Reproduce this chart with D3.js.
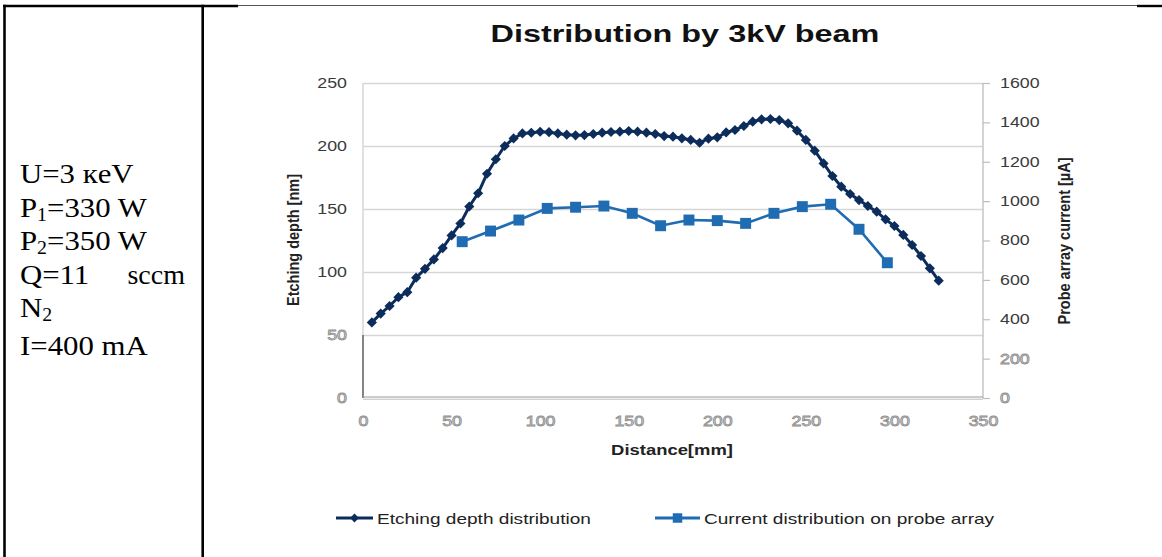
<!DOCTYPE html>
<meta charset="utf-8">
<html lang="en">
<head>
<title>Distribution by 3kV beam</title>
<script src="https://d3js.org/d3.v7.min.js"></script>
<style>
    body { margin: 0; background: #fff; }
    text { font-family: "Liberation Sans", Arial, sans-serif; }
    .params text { font-family: "Liberation Serif", "Times New Roman", serif; font-size: 28px; fill: #000; }
    .grid line { stroke: #d6d6d6; stroke-width: 1.5px; }
    .grid path { display: none; }
    .axis path { display: none; }
    .axis line { stroke: #bdbdbd; stroke-width: 1.2px; }
    .axis text { font-size: 14px; fill: #3a3a3a; }
    .axis text.ghost { fill: #f2f2f2; stroke: #8e8e8e; stroke-width: 0.8px; }
    .title { font-size: 24px; font-weight: bold; fill: #111; }
    .atitle { font-size: 14.5px; font-weight: bold; fill: #222; }
    .legend text { font-size: 15px; fill: #222; }
</style>
</head>
<body>
<script>
    // etching depth, every 5 mm
    var distance = [5, 10, 15, 20, 25, 30, 35, 40, 45, 50, 55, 60, 65, 70, 75, 80, 85, 90, 95, 100,
        105, 110, 115, 120, 125, 130, 135, 140, 145, 150, 155, 160, 165, 170, 175, 180, 185, 190, 195, 200,
        205, 210, 215, 220, 225, 230, 235, 240, 245, 250, 255, 260, 265, 270, 275, 280, 285, 290, 295, 300,
        305, 310, 315, 320, 325];
    var etchDepth = [60, 67, 73, 80, 84, 95.5, 102.5, 110, 119, 129, 138.5, 152, 162.5, 178, 189.5, 200, 206, 210, 210.5, 211.3,
        211, 210, 209, 208.5, 208.7, 209.5, 210.6, 211.1, 211.4, 211.9, 211.4, 210.6, 209.5, 207.9, 207.4, 206.1, 204.8, 202.6, 205.8, 206.9,
        210.8, 212.7, 215.9, 219.3, 221.2, 221.4, 220.6, 218, 212.2, 204.8, 196.3, 186.2, 176.2, 167.7, 161.9, 157.1, 152.4, 147.9, 141.8, 136.5,
        129.4, 121.4, 112.7, 102.9, 93.1];

    // probe array
    var probePos = [56, 72, 88, 104, 120, 136, 152, 168, 184, 200, 216, 232, 248, 264, 280, 296];
    var probeCurrent = [794, 848, 904, 963, 969, 975, 938, 875, 904, 901, 887, 938, 972, 984, 857, 687];

    var leftTicks = [0, 50, 100, 150, 200, 250];
    var rightTicks = [0, 200, 400, 600, 800, 1000, 1200, 1400, 1600];
    var xTicks = [0, 50, 100, 150, 200, 250, 300, 350];

    var seriesNames = ["Etching depth distribution", "Current distribution on probe array"];
    var seriesColors = ["#0c2c5c", "#1f6cb2"];

    var params = [
        {t: "U=3 кeV"},
        {t: "P", s: "1", r: "=330 W"},
        {t: "P", s: "2", r: "=350 W"},
        {t: "Q=11", right: "sccm"},
        {t: "N", s: "2"},
        {t: "I=400 mA"}
    ];
    var paramBaselines = [183, 216.5, 250, 283.5, 317, 355];

    var W = 1162, H = 557;
    var svg = d3.select("body").append("svg").attr("width", W).attr("height", H);
    svg.append("rect").attr("width", W).attr("height", H).attr("fill", "#fff");

    // horizontal stretch of the pasted chart picture
    var K = 1.27;
    function stretch(sel, k) {
        sel.each(function () {
            var w = this.getComputedTextLength();
            d3.select(this).attr("textLength", w * k).attr("lengthAdjust", "spacingAndGlyphs");
        });
    }

    // table frame
    var frame = svg.append("g");
    frame.append("line").attr("x1", 4.5).attr("x2", 4.5).attr("y1", 4.8).attr("y2", H).attr("stroke", "#000").attr("stroke-width", 2.6);
    frame.append("line").attr("x1", 202.7).attr("x2", 202.7).attr("y1", 4.8).attr("y2", H).attr("stroke", "#000").attr("stroke-width", 2.6);
    frame.append("line").attr("x1", 3.2).attr("x2", 238).attr("y1", 6).attr("y2", 6).attr("stroke", "#000").attr("stroke-width", 2.4);
    frame.append("line").attr("x1", 238).attr("x2", 1137).attr("y1", 5.5).attr("y2", 5.5).attr("stroke", "#555").attr("stroke-width", 1.2);
    frame.append("line").attr("x1", 1137).attr("x2", W).attr("y1", 6).attr("y2", 6).attr("stroke", "#000").attr("stroke-width", 2.4);

    // parameter block
    var pg = svg.append("g").attr("class", "params");
    params.forEach(function (p, i) {
        var y = paramBaselines[i];
        var t = pg.append("text").attr("x", 20).attr("y", y);
        t.append("tspan").text(p.t);
        if (p.s) {
            t.append("tspan").attr("dy", 4).style("font-size", "18px").text(p.s);
            if (p.r) t.append("tspan").attr("dy", -4).text(p.r);
        }
        stretch(t, 1.1);
        if (p.right) pg.append("text").attr("x", 185).attr("y", y).attr("text-anchor", "end").text(p.right);
    });

    // scales
    var x = d3.scaleLinear().domain([0, 350]).range([363, 983]);
    var yL = d3.scaleLinear().domain([0, 250]).range([398, 83]);
    var yR = d3.scaleLinear().domain([0, 1600]).range([398, 83]);

    // gridlines
    svg.append("g").attr("class", "grid")
        .attr("transform", "translate(363,0)")
        .call(d3.axisLeft(yL).tickValues(leftTicks.filter(d => d >= 50)).tickSize(-620).tickFormat(""));

    // plot frame
    svg.append("line").attr("x1", 363).attr("x2", 363).attr("y1", yL(250)).attr("y2", yL(50))
        .attr("stroke", "#d6d6d6").attr("stroke-width", 1.5);
    svg.append("line").attr("x1", 363).attr("x2", 363).attr("y1", yL(50)).attr("y2", yL(0))
        .attr("stroke", "#666").attr("stroke-width", 1.6);
    svg.append("line").attr("x1", 983).attr("x2", 983).attr("y1", yR(1600)).attr("y2", yR(0))
        .attr("stroke", "#bdbdbd").attr("stroke-width", 1.3);
    svg.append("line").attr("x1", 363).attr("x2", 983).attr("y1", yL(0) - 1).attr("y2", yL(0) - 1)
        .attr("stroke", "#9a9a9a").attr("stroke-width", 1);
    svg.append("line").attr("x1", 363).attr("x2", 983).attr("y1", yL(0) + 1.2).attr("y2", yL(0) + 1.2)
        .attr("stroke", "#bdbdbd").attr("stroke-width", 1);

    // axes
    var gl = svg.append("g").attr("class", "axis").attr("transform", "translate(363,0)")
        .call(d3.axisLeft(yL).tickValues(leftTicks).tickSize(0).tickPadding(16));
    gl.selectAll("text").classed("ghost", d => d < 100);

    var gr = svg.append("g").attr("class", "axis").attr("transform", "translate(983,0)")
        .call(d3.axisRight(yR).tickValues(rightTicks).tickFormat(d3.format("d")).tickSize(7).tickPadding(10));
    gr.selectAll("text").classed("ghost", d => d < 400).attr("x", 17).style("text-anchor", "start");

    var gx = svg.append("g").attr("class", "axis").attr("transform", "translate(0,398)")
        .call(d3.axisBottom(x).tickValues(xTicks).tickSize(0).tickPadding(18));
    gx.selectAll("text").classed("ghost", true);

    stretch(svg.selectAll(".axis text"), K);

    // titles
    var title = svg.append("text").attr("class", "title").attr("x", 685).attr("y", 42)
        .attr("text-anchor", "middle").text("Distribution by 3kV beam");
    stretch(title, 1.35);

    var xt = svg.append("text").attr("class", "atitle").attr("x", 672).attr("y", 455)
        .attr("text-anchor", "middle").text("Distance[mm]");
    stretch(xt, K);

    svg.append("text").attr("class", "atitle").attr("text-anchor", "middle")
        .attr("transform", "translate(299,240) scale(1.2,1) rotate(-90)").text("Etching depth [nm]");
    svg.append("text").attr("class", "atitle").attr("text-anchor", "middle")
        .attr("transform", "translate(1070,241) scale(1.2,1) rotate(-90)").text("Probe array current [µA]");

    // series
    var etch = distance.map((d, i) => [d, etchDepth[i]]);
    var probe = probePos.map((d, i) => [d, probeCurrent[i]]);

    svg.append("path").datum(probe)
        .attr("fill", "none").attr("stroke", seriesColors[1]).attr("stroke-width", 2.6)
        .attr("d", d3.line().x(d => x(d[0])).y(d => yR(d[1])));
    svg.selectAll(".sq").data(probe).enter().append("path").attr("class", "sq")
        .attr("transform", d => "translate(" + x(d[0]) + "," + yR(d[1]) + ")")
        .attr("d", d3.symbol(d3.symbolSquare, 120))
        .attr("fill", seriesColors[1]);

    svg.append("path").datum(etch)
        .attr("fill", "none").attr("stroke", seriesColors[0]).attr("stroke-width", 3)
        .attr("d", d3.line().x(d => x(d[0])).y(d => yL(d[1])));
    svg.selectAll(".dm").data(etch).enter().append("path").attr("class", "dm")
        .attr("transform", d => "translate(" + x(d[0]) + "," + yL(d[1]) + ")")
        .attr("d", d3.symbol(d3.symbolDiamond2, 66))
        .attr("fill", seriesColors[0]);

    // legend
    var legendX = [336, 655];
    var lg = svg.append("g").attr("class", "legend");
    seriesNames.forEach(function (name, i) {
        var g = lg.append("g").attr("transform", "translate(" + legendX[i] + ",518)");
        var len = i === 0 ? 37 : 45;
        g.append("line").attr("x1", 0).attr("x2", len).attr("stroke", seriesColors[i]).attr("stroke-width", 3);
        g.append("path").attr("transform", "translate(" + len / 2 + ",0)")
            .attr("d", d3.symbol(i === 0 ? d3.symbolDiamond2 : d3.symbolSquare, i === 0 ? 50 : 90))
            .attr("fill", seriesColors[i]);
        var t = g.append("text").attr("x", len + 4).attr("y", 5.5).text(name);
        stretch(t, K);
    });
</script>
</body>
</html>
